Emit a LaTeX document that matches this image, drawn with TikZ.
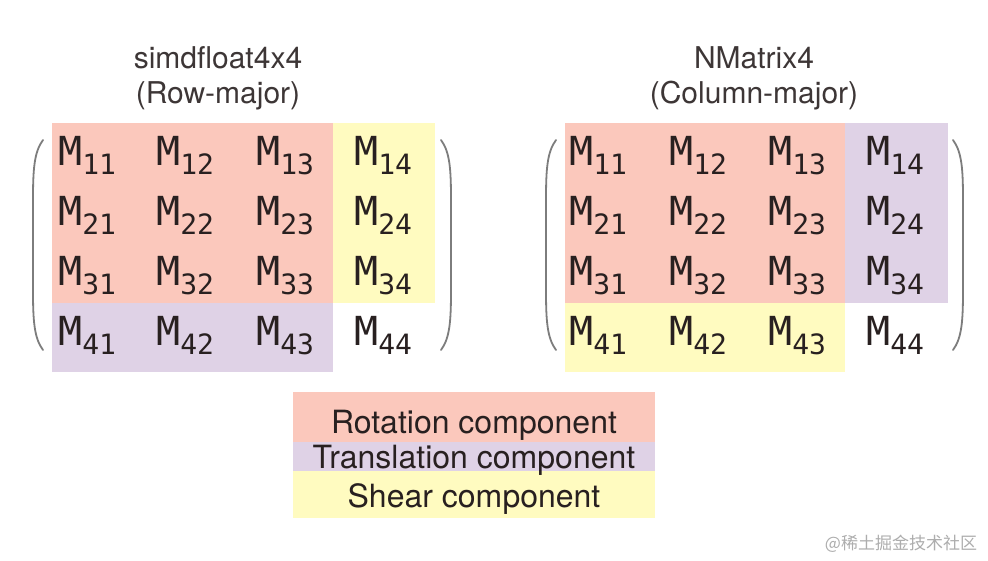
\documentclass[tikz,border=0pt]{standalone}
\usepackage{fontspec}
\usepackage{xcolor}
\usepackage{tikz}
\usetikzlibrary{positioning}
\setmainfont{TeX Gyre Heros}
\newfontfamily\cellfont{DejaVu Sans Mono}
\newfontfamily\cjkfont{Noto Sans CJK SC}
\definecolor{rotred}{RGB}{251, 200, 188}
\definecolor{transpurple}{RGB}{223, 210, 230}
\definecolor{shearyellow}{RGB}{255, 251, 192}
\definecolor{inkdark}{RGB}{40, 32, 32}
\definecolor{parengray}{RGB}{125, 125, 125}
\newcommand{\Mel}[1]{\fontsize{40}{40}\selectfont M\raisebox{-9pt}{\fontsize{28}{28}\selectfont #1}}

\begin{document}
\begin{tikzpicture}[x=1pt, y=-1pt]
    % Styles
    \tikzstyle{region} = [inner sep=0, outer sep=0, draw=none]
    \tikzstyle{entry} = [font=\cellfont, text=inkdark, anchor=base west, inner sep=0]
    \tikzstyle{title} = [font=\fontsize{30}{35}\selectfont, text=inkdark!90, align=center]
    \tikzstyle{legendtext} = [font=\fontsize{32}{32}\selectfont, text=inkdark, anchor=base]
    \tikzstyle{paren} = [draw=parengray, line width=1.8pt, line cap=round]

    \fill[white] (0,0) rectangle (988,560);
    \useasboundingbox (0,0) rectangle (988,560);

    % Titles
    \node[title] (title_l) at (218, 78) {simdfloat4x4\\(Row-major)};
    \node[title] (title_r) at (754, 78) {NMatrix4\\(Column-major)};

    % Left matrix (row-major)
    \node[region, fill=rotred, minimum width=281pt, minimum height=180pt] (rot_l) at (192.5, 213) {};
    \node[region, fill=shearyellow, minimum width=102pt, minimum height=180pt] (shear_l) at (384, 213) {};
    \node[region, fill=transpurple, minimum width=281pt, minimum height=69pt] (trans_l) at (192.5, 337.5) {};

    \node[entry] (l11) at (58, 165) {\Mel{11}};
    \node[entry] (l12) at (156, 165) {\Mel{12}};
    \node[entry] (l13) at (256, 165) {\Mel{13}};
    \node[entry] (l14) at (354, 165) {\Mel{14}};
    \node[entry] (l21) at (58, 225) {\Mel{21}};
    \node[entry] (l22) at (156, 225) {\Mel{22}};
    \node[entry] (l23) at (256, 225) {\Mel{23}};
    \node[entry] (l24) at (354, 225) {\Mel{24}};
    \node[entry] (l31) at (58, 285) {\Mel{31}};
    \node[entry] (l32) at (156, 285) {\Mel{32}};
    \node[entry] (l33) at (256, 285) {\Mel{33}};
    \node[entry] (l34) at (354, 285) {\Mel{34}};
    \node[entry] (l41) at (58, 345) {\Mel{41}};
    \node[entry] (l42) at (156, 345) {\Mel{42}};
    \node[entry] (l43) at (256, 345) {\Mel{43}};
    \node[entry] (l44) at (354, 345) {\Mel{44}};

    \draw[paren] (43,140) .. controls (34,152) and (33,170) .. (33,200) -- (33,290) .. controls (33,320) and (34,338) .. (43,350);
    \draw[paren] (441,140) .. controls (450,152) and (451,170) .. (451,200) -- (451,290) .. controls (451,320) and (450,338) .. (441,350);

    % Right matrix (column-major)
    \node[region, fill=rotred, minimum width=280pt, minimum height=180pt] (rot_r) at (705, 213) {};
    \node[region, fill=transpurple, minimum width=103pt, minimum height=180pt] (trans_r) at (896.5, 213) {};
    \node[region, fill=shearyellow, minimum width=280pt, minimum height=69pt] (shear_r) at (705, 337.5) {};

    \node[entry] (r11) at (569, 165) {\Mel{11}};
    \node[entry] (r12) at (669, 165) {\Mel{12}};
    \node[entry] (r13) at (768, 165) {\Mel{13}};
    \node[entry] (r14) at (866, 165) {\Mel{14}};
    \node[entry] (r21) at (569, 225) {\Mel{21}};
    \node[entry] (r22) at (669, 225) {\Mel{22}};
    \node[entry] (r23) at (768, 225) {\Mel{23}};
    \node[entry] (r24) at (866, 225) {\Mel{24}};
    \node[entry] (r31) at (569, 285) {\Mel{31}};
    \node[entry] (r32) at (669, 285) {\Mel{32}};
    \node[entry] (r33) at (768, 285) {\Mel{33}};
    \node[entry] (r34) at (866, 285) {\Mel{34}};
    \node[entry] (r41) at (569, 345) {\Mel{41}};
    \node[entry] (r42) at (669, 345) {\Mel{42}};
    \node[entry] (r43) at (768, 345) {\Mel{43}};
    \node[entry] (r44) at (866, 345) {\Mel{44}};

    \draw[paren] (556,140) .. controls (547,152) and (546,170) .. (546,200) -- (546,290) .. controls (546,320) and (547,338) .. (556,350);
    \draw[paren] (953,140) .. controls (962,152) and (963,170) .. (963,200) -- (963,290) .. controls (963,320) and (962,338) .. (953,350);

    % Legend
    \node[region, fill=rotred, minimum width=362pt, minimum height=50pt] (leg_rot) at (474, 417) {};
    \node[region, fill=transpurple, minimum width=362pt, minimum height=29pt] (leg_trans) at (474, 456.5) {};
    \node[region, fill=shearyellow, minimum width=362pt, minimum height=47pt] (leg_shear) at (474, 494.5) {};
    \node[legendtext] (txt_rot) at (474, 433) {Rotation component};
    \node[legendtext] (txt_trans) at (474, 468) {Translation component};
    \node[legendtext] (txt_shear) at (474, 507) {Shear component};

    % Watermark
    \node[font=\cjkfont\fontsize{17}{17}\selectfont, text=black!32] (mark) at (901, 544) {@稀土掘金技术社区};
\end{tikzpicture}
\end{document}
